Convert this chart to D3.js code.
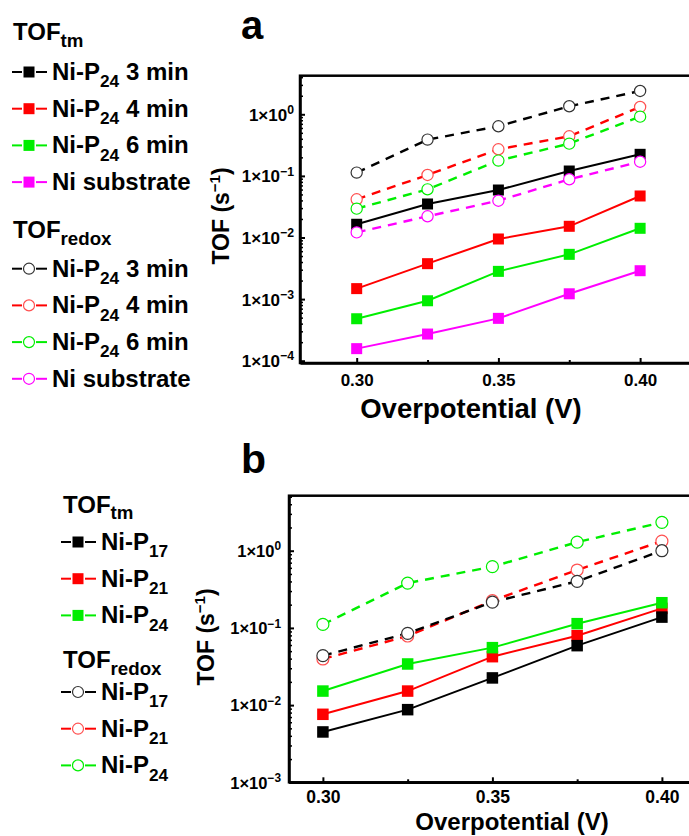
<!DOCTYPE html>
<html>
<head>
<meta charset="utf-8">
<script src="https://cdn.jsdelivr.net/npm/d3@7/dist/d3.min.js"></script>
<style>
  html, body { margin: 0; padding: 0; background: #fff; }
  svg { display: block; }
  text { font-family: "Liberation Sans", Arial, sans-serif; font-weight: bold; fill: #000; }
</style>
</head>
<body>
<svg id="chart" width="689" height="836"></svg>
<script>
// ---------- DATA ----------
const overpotential = [0.30, 0.325, 0.35, 0.375, 0.40];

// Panel a : TOF_tm
const tmA_3min = [0.0164, 0.035, 0.059, 0.12, 0.224];
const tmA_4min = [0.00148, 0.00376, 0.00946, 0.0152, 0.0472];
const tmA_6min = [0.00048, 0.00094, 0.00282, 0.00533, 0.0141];
const tmA_sub  = [0.000157, 0.000271, 0.000487, 0.00122, 0.00289];
// Panel a : TOF_redox
const redoxA_3min = [0.113, 0.388, 0.639, 1.35, 2.39];
const redoxA_4min = [0.0417, 0.1035, 0.270, 0.439, 1.315];
const redoxA_6min = [0.0294, 0.0605, 0.177, 0.334, 0.916];
const redoxA_sub  = [0.0121, 0.0221, 0.0396, 0.088, 0.170];

// Panel b : TOF_tm
const tmB_P17 = [0.00449, 0.00873, 0.0225, 0.0589, 0.138];
const tmB_P21 = [0.0076, 0.0152, 0.0424, 0.0793, 0.179];
const tmB_P24 = [0.0152, 0.0341, 0.0555, 0.1135, 0.212];
// Panel b : TOF_redox
const redoxB_P17 = [0.0437, 0.0851, 0.216, 0.401, 1.0];
const redoxB_P21 = [0.0396, 0.0785, 0.225, 0.562, 1.33];
const redoxB_P24 = [0.111, 0.381, 0.621, 1.29, 2.33];

const xTickValues = [0.30, 0.35, 0.40];
const xMinorValues = [0.325, 0.375];
const yTicksA = [1e-4, 1e-3, 1e-2, 1e-1, 1e0];
const yExpA = ["\u22124", "\u22123", "\u22122", "\u22121", "0"];
const yTicksB = [1e-3, 1e-2, 1e-1, 1e0];
const yExpB = ["\u22123", "\u22122", "\u22121", "0"];

const legendA_tm = [
  {label: "Ni-P", sub: "24", tail: " 3 min", color: "#000000"},
  {label: "Ni-P", sub: "24", tail: " 4 min", color: "#ff0000"},
  {label: "Ni-P", sub: "24", tail: " 6 min", color: "#00ee00"},
  {label: "Ni substrate", sub: "", tail: "", color: "#ff00ff"}
];
const legendA_redox = legendA_tm;
const legendB_tm = [
  {label: "Ni-P", sub: "17", tail: "", color: "#000000"},
  {label: "Ni-P", sub: "21", tail: "", color: "#ff0000"},
  {label: "Ni-P", sub: "24", tail: "", color: "#00ee00"}
];
const legendB_redox = legendB_tm;

// ---------- DRAW ----------
const svg = d3.select("#chart");

function minorLog(domain) {
  const out = [];
  const lo = Math.floor(Math.log10(domain[0])), hi = Math.ceil(Math.log10(domain[1]));
  for (let e = lo; e <= hi; e++) {
    for (let m = 2; m <= 9; m++) {
      const v = m * Math.pow(10, e);
      if (v >= domain[0] && v <= domain[1]) out.push(v);
    }
  }
  return out;
}

function panel(cfg) {
  const g = svg.append("g");
  const x = d3.scaleLinear().domain(cfg.xDomain).range(cfg.xRange);
  const y = d3.scaleLog().domain(cfg.yDomain).range(cfg.yRange);

  // frame
  g.append("rect")
    .attr("x", cfg.xRange[0]).attr("y", cfg.yRange[1])
    .attr("width", cfg.xRange[1] - cfg.xRange[0])
    .attr("height", cfg.yRange[0] - cfg.yRange[1])
    .attr("fill", "none").attr("stroke", "#000").attr("stroke-width", 2.5);

  // y axis major
  const yAx = g.append("g").attr("transform", `translate(${cfg.xRange[0]},0)`)
    .call(d3.axisLeft(y).tickValues(cfg.yTicks).tickSizeInner(-5).tickSizeOuter(0).tickPadding(cfg.yPad).tickFormat(() => ""));
  yAx.select(".domain").attr("stroke-width", 2.5);
  yAx.selectAll(".tick line").attr("stroke-width", 2);
  yAx.selectAll(".tick text").each(function(d, i) {
    const t = d3.select(this);
    t.text(null).attr("font-size", cfg.tickFont).attr("font-weight", "bold")
      .attr("font-family", '"Liberation Sans", Arial, sans-serif').attr("dy", "0.35em");
    t.append("tspan").text("1\u00d710");
    t.append("tspan").attr("dy", -cfg.tickFont * 0.4).attr("font-size", cfg.tickFont * 0.72).text(cfg.yExp[i]);
  });
  // y minor
  const yMin = g.append("g").attr("transform", `translate(${cfg.xRange[0]},0)`)
    .call(d3.axisLeft(y).tickValues(minorLog(cfg.yDomain)).tickSize(-3).tickFormat(""));
  yMin.select(".domain").remove();
  yMin.selectAll(".tick line").attr("stroke-width", 1.5);

  // x axis major
  const xAx = g.append("g").attr("transform", `translate(0,${cfg.yRange[0]})`)
    .call(d3.axisBottom(x).tickValues(cfg.xTicks).tickSizeInner(-5).tickSizeOuter(0).tickPadding(cfg.xPad).tickFormat(d3.format(".2f")));
  xAx.select(".domain").attr("stroke-width", 2.5);
  xAx.selectAll(".tick line").attr("stroke-width", 2);
  xAx.selectAll(".tick text").attr("font-size", cfg.xTickFont).attr("font-weight", "bold")
    .attr("font-family", '"Liberation Sans", Arial, sans-serif');
  const xMin = g.append("g").attr("transform", `translate(0,${cfg.yRange[0]})`)
    .call(d3.axisBottom(x).tickValues(xMinorValues).tickSize(-3).tickFormat(""));
  xMin.select(".domain").remove();
  xMin.selectAll(".tick line").attr("stroke-width", 2);

  // axis titles
  g.append("text").attr("x", cfg.xTitle[0]).attr("y", cfg.xTitle[1])
    .attr("text-anchor", "middle").attr("font-size", cfg.xTitleFont).text("Overpotential (V)");
  const yt = g.append("text")
    .attr("transform", `translate(${cfg.yTitle[0]},${cfg.yTitle[1]}) rotate(-90)`)
    .attr("text-anchor", "middle").attr("font-size", cfg.titleFont);
  yt.append("tspan").text("TOF (s");
  yt.append("tspan").attr("dy", -cfg.titleFont * 0.4).attr("font-size", cfg.titleFont * 0.65).text("\u22121");
  yt.append("tspan").attr("dy", cfg.titleFont * 0.4).text(")");

  // panel letter
  g.append("text").attr("x", cfg.letterPos[0]).attr("y", cfg.letterPos[1])
    .attr("font-family", '"Open Sans", "DejaVu Sans", sans-serif')
    .attr("font-size", cfg.letterFont).attr("font-weight", "bold").text(cfg.letter);

  const line = d3.line().x((d, i) => x(overpotential[i])).y(d => y(d));

  // lines
  cfg.series.forEach(s => {
    g.append("path").datum(s.values).attr("d", line)
      .attr("fill", "none").attr("stroke", s.color)
      .attr("stroke-width", s.type === "tm" ? 2 : 2.4)
      .attr("stroke-dasharray", s.type === "tm" ? null : "9,7");
  });
  // markers: squares first, then circles
  cfg.series.filter(s => s.type === "tm").forEach(s => {
    g.selectAll(null).data(s.values).enter().append("rect")
      .attr("x", (d, i) => x(overpotential[i]) - cfg.sq / 2)
      .attr("y", d => y(d) - cfg.sq / 2)
      .attr("width", cfg.sq).attr("height", cfg.sq)
      .attr("fill", s.color);
  });
  cfg.series.filter(s => s.type === "redox").forEach(s => {
    g.selectAll(null).data(s.values).enter().append("circle")
      .attr("cx", (d, i) => x(overpotential[i]))
      .attr("cy", d => y(d))
      .attr("r", cfg.cr)
      .attr("fill", "#fff").attr("stroke", s.circleColor || s.color).attr("stroke-width", 1.2);
  });
}

function legendBlock(x0, yHead, headSub, items, type, yFirst, step, fontSize, symX) {
  const g = svg.append("g");
  const h = g.append("text").attr("x", x0).attr("y", yHead).attr("font-size", fontSize);
  h.append("tspan").text("TOF");
  h.append("tspan").attr("dy", fontSize * 0.28).attr("font-size", fontSize * 0.78).text(headSub);
  items.forEach((it, i) => {
    const yb = yFirst + i * step;
    const cy = yb - 8;
    const col = it.color;
    g.append("line").attr("x1", symX[0]).attr("x2", symX[1] - 7).attr("y1", cy).attr("y2", cy)
      .attr("stroke", col).attr("stroke-width", 2);
    g.append("line").attr("x1", symX[1] + 7).attr("x2", symX[2]).attr("y1", cy).attr("y2", cy)
      .attr("stroke", col).attr("stroke-width", 2);
    if (type === "tm") {
      g.append("rect").attr("x", symX[1] - 5.5).attr("y", cy - 5.5).attr("width", 11).attr("height", 11).attr("fill", col);
    } else {
      g.append("circle").attr("cx", symX[1]).attr("cy", cy).attr("r", 5.5)
        .attr("fill", "#fff").attr("stroke", col === "#ff0000" ? "#ff5050" : (col === "#000000" ? "#333" : col)).attr("stroke-width", 1.2);
    }
    const t = g.append("text").attr("x", symX[2] + 5).attr("y", yb).attr("font-size", fontSize);
    t.append("tspan").text(it.label);
    if (it.sub) {
      t.append("tspan").attr("dy", fontSize * 0.3).attr("font-size", fontSize * 0.72).text(it.sub);
      t.append("tspan").attr("dy", -fontSize * 0.3).text(it.tail);
    }
  });
}

// Panel a
panel({
  xDomain: [0.28, 0.42], xRange: [300, 696.8],
  yDomain: [9.18e-5, 4.23], yRange: [363, 75.7],
  yTicks: yTicksA, yExp: yExpA, xTicks: xTickValues,
  tickFont: 17, xTickFont: 17, yPad: 6, xPad: 11, titleFont: 23, xTitleFont: 27.5,
  xTitle: [471, 418], yTitle: [229, 216],
  letter: "a", letterPos: [241, 39], letterFont: 40,
  sq: 11, cr: 5.6,
  series: [
    {type: "tm", color: "#000000", values: tmA_3min},
    {type: "tm", color: "#ff0000", values: tmA_4min},
    {type: "tm", color: "#00ee00", values: tmA_6min},
    {type: "tm", color: "#ff00ff", values: tmA_sub},
    {type: "redox", color: "#000000", circleColor: "#333", values: redoxA_3min},
    {type: "redox", color: "#ff0000", circleColor: "#ff5050", values: redoxA_4min},
    {type: "redox", color: "#00ee00", values: redoxA_6min},
    {type: "redox", color: "#ff00ff", values: redoxA_sub}
  ]
});

// Panel b
panel({
  xDomain: [0.29, 0.41], xRange: [289, 695.8],
  yDomain: [1e-3, 5.16], yRange: [782.3, 495.7],
  yTicks: yTicksB, yExp: yExpB, xTicks: xTickValues,
  tickFont: 16.5, xTickFont: 17.5, yPad: 8, xPad: 8, titleFont: 23, xTitleFont: 24,
  xTitle: [512, 830], yTitle: [214, 637],
  letter: "b", letterPos: [241, 473], letterFont: 41,
  sq: 11.5, cr: 6,
  series: [
    {type: "tm", color: "#ff0000", values: tmB_P21},
    {type: "tm", color: "#000000", values: tmB_P17},
    {type: "tm", color: "#00ee00", values: tmB_P24},
    {type: "redox", color: "#ff0000", circleColor: "#ff5050", values: redoxB_P21},
    {type: "redox", color: "#000000", circleColor: "#333", values: redoxB_P17},
    {type: "redox", color: "#00ee00", values: redoxB_P24}
  ]
});

// Legends
legendBlock(13, 40, "tm", legendA_tm, "tm", 80, 36.7, 24, [12, 29, 47]);
legendBlock(13, 238, "redox", legendA_redox, "redox", 276.7, 36.7, 24, [12, 29, 47]);
legendBlock(63, 512.7, "tm", legendB_tm, "tm", 550, 36.7, 24, [61, 78, 96]);
legendBlock(63, 668.3, "redox", legendB_redox, "redox", 700, 36.7, 24, [61, 78, 96]);
</script>
</body>
</html>
